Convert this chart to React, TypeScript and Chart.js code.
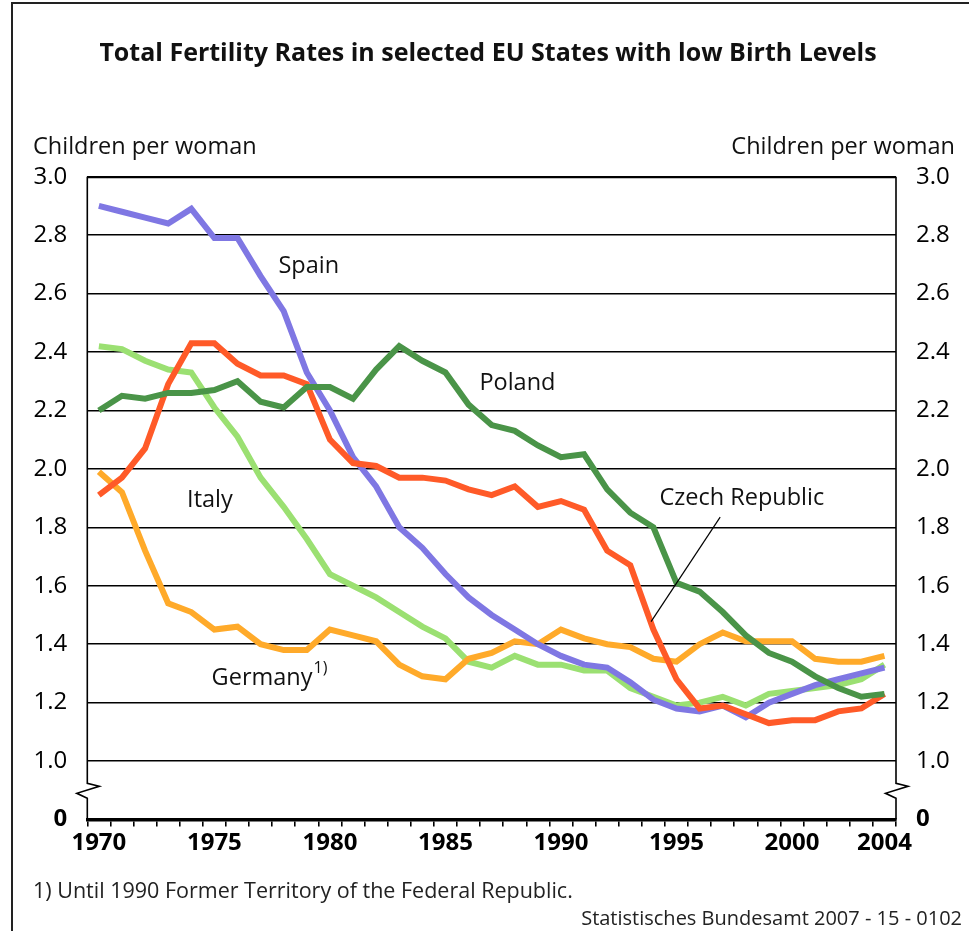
import React, { useEffect, useRef } from "react";
import { Chart, registerables } from "chart.js";

Chart.register(...registerables);

const years = [
  "1970", "1971", "1972", "1973", "1974", "1975", "1976", "1977", "1978", "1979",
  "1980", "1981", "1982", "1983", "1984", "1985", "1986", "1987", "1988", "1989",
  "1990", "1991", "1992", "1993", "1994", "1995", "1996", "1997", "1998", "1999",
  "2000", "2001", "2002", "2003", "2004",
];
const labeledYears = ["1970", "1975", "1980", "1985", "1990", "1995", "2000", "2004"];

const spain = [
  2.90, 2.88, 2.86, 2.84, 2.89, 2.79, 2.79, 2.66, 2.54, 2.33,
  2.20, 2.04, 1.94, 1.80, 1.73, 1.64, 1.56, 1.50, 1.45, 1.40,
  1.36, 1.33, 1.32, 1.27, 1.21, 1.18, 1.17, 1.19, 1.15, 1.20,
  1.23, 1.26, 1.28, 1.30, 1.32,
];
const poland = [
  2.20, 2.25, 2.24, 2.26, 2.26, 2.27, 2.30, 2.23, 2.21, 2.28,
  2.28, 2.24, 2.34, 2.42, 2.37, 2.33, 2.22, 2.15, 2.13, 2.08,
  2.04, 2.05, 1.93, 1.85, 1.80, 1.61, 1.58, 1.51, 1.43, 1.37,
  1.34, 1.29, 1.25, 1.22, 1.23,
];
const italy = [
  2.42, 2.41, 2.37, 2.34, 2.33, 2.21, 2.11, 1.97, 1.87, 1.76,
  1.64, 1.60, 1.56, 1.51, 1.46, 1.42, 1.34, 1.32, 1.36, 1.33,
  1.33, 1.31, 1.31, 1.25, 1.22, 1.19, 1.20, 1.22, 1.19, 1.23,
  1.24, 1.25, 1.26, 1.28, 1.33,
];
const czech = [
  1.91, 1.97, 2.07, 2.29, 2.43, 2.43, 2.36, 2.32, 2.32, 2.29,
  2.10, 2.02, 2.01, 1.97, 1.97, 1.96, 1.93, 1.91, 1.94, 1.87,
  1.89, 1.86, 1.72, 1.67, 1.45, 1.28, 1.18, 1.19, 1.16, 1.13,
  1.14, 1.14, 1.17, 1.18, 1.23,
];
const germany = [
  1.99, 1.92, 1.72, 1.54, 1.51, 1.45, 1.46, 1.40, 1.38, 1.38,
  1.45, 1.43, 1.41, 1.33, 1.29, 1.28, 1.35, 1.37, 1.41, 1.40,
  1.45, 1.42, 1.40, 1.39, 1.35, 1.34, 1.40, 1.44, 1.41, 1.41,
  1.41, 1.35, 1.34, 1.34, 1.36,
];

const titleText = "Total Fertility Rates in selected EU States with low Birth Levels";
const axisTitle = "Children per woman";
const footnote = "1) Until 1990 Former Territory of the Federal Republic.";
const sourceText = "Statistisches Bundesamt 2007 - 15 - 0102";

// series labels anchored in data coordinates (category index, value)
const seriesLabels = [
  { text: "Spain", i: 7.77, v: 2.669 },
  { text: "Poland", i: 16.47, v: 2.27 },
  { text: "Italy", i: 3.82, v: 1.871 },
  { text: "Germany", i: 4.88, v: 1.261, sup: "1)" },
  { text: "Czech Republic", i: 24.26, v: 1.877 },
];
const leader = { from: { i: 26.89, v: 1.835 }, to: { i: 23.9, v: 1.477 } };

const FONT = "'Open Sans', 'DejaVu Sans', sans-serif";
const W = 969;
const H = 931;

const decorPlugin = {
  id: "decor",
  afterDraw(chart: any) {
    const ctx = chart.ctx as CanvasRenderingContext2D;
    const xs = chart.scales.x;
    const ys = chart.scales.y;
    const area = chart.chartArea;
    ctx.save();
    // frame
    ctx.strokeStyle = "#222";
    ctx.lineWidth = 2;
    ctx.beginPath();
    ctx.moveTo(12, H);
    ctx.lineTo(12, 3);
    ctx.lineTo(W, 3);
    ctx.stroke();

    // title
    ctx.fillStyle = "#111";
    ctx.font = `bold 25px ${FONT}`;
    ctx.textAlign = "center";
    ctx.textBaseline = "alphabetic";
    ctx.fillText(titleText, 488, 61);

    // axis titles
    ctx.font = `23.5px ${FONT}`;
    ctx.textAlign = "left";
    ctx.fillText(axisTitle, 33, 154);
    ctx.textAlign = "right";
    ctx.fillText(axisTitle, 955, 154);

    // axis lines with break marks
    const yB = ys.getPixelForValue(0.9);
    ctx.strokeStyle = "#000";
    ctx.lineWidth = 1.6;
    const drawBreakAxis = (x: number) => {
      ctx.beginPath();
      ctx.moveTo(x, area.top);
      ctx.lineTo(x, yB - 7);
      ctx.lineTo(x + 12, yB - 4);
      ctx.lineTo(x - 10.5, yB + 3);
      ctx.lineTo(x, yB + 8);
      ctx.lineTo(x, area.bottom);
      ctx.stroke();
    };
    drawBreakAxis(area.left);
    drawBreakAxis(area.right);

    // series labels
    ctx.fillStyle = "#111";
    ctx.textAlign = "left";
    ctx.textBaseline = "alphabetic";
    for (const l of seriesLabels) {
      ctx.font = `23.5px ${FONT}`;
      const px = xs.getPixelForValue(l.i);
      const py = ys.getPixelForValue(l.v);
      ctx.fillText(l.text, px, py);
      if (l.sup) {
        const w = ctx.measureText(l.text).width;
        ctx.font = `16px ${FONT}`;
        ctx.fillText(l.sup, px + w + 1, py - 12);
      }
    }

    // leader line
    ctx.strokeStyle = "#000";
    ctx.lineWidth = 1.2;
    ctx.beginPath();
    ctx.moveTo(xs.getPixelForValue(leader.from.i), ys.getPixelForValue(leader.from.v));
    ctx.lineTo(xs.getPixelForValue(leader.to.i), ys.getPixelForValue(leader.to.v));
    ctx.stroke();

    // footnote & source
    ctx.font = `21.5px ${FONT}`;
    ctx.textAlign = "left";
    ctx.fillStyle = "#222";
    ctx.fillText(footnote, 33, 898);
    ctx.font = `20px ${FONT}`;
    ctx.textAlign = "right";
    ctx.fillText(sourceText, 962, 925);
    ctx.restore();
  },
};

export default function App() {
  const ref = useRef<HTMLCanvasElement | null>(null);
  useEffect(() => {
    if (!ref.current) return;
    const ds = (label: string, data: number[], color: string, order: number) => ({
      label,
      data,
      borderColor: color,
      backgroundColor: color,
      borderWidth: 6,
      pointRadius: 0,
      tension: 0,
      fill: false,
      borderJoinStyle: "miter" as const,
      borderCapStyle: "butt" as const,
      order,
    });
    const isZero = (v: number) => Math.abs(Number(v) - 0.8) < 1e-6;
    const yTicks = () => ({
      min: 0.8,
      max: 3.0,
      ticks: {
        stepSize: 0.2,
        padding: 20,
        color: "#000",
        font: (c: any) => ({
          family: FONT,
          size: 24,
          weight: c.tick && isZero(c.tick.value) ? "bold" : "normal",
        }),
        callback: (v: any) => (isZero(v) ? "0" : Number(v).toFixed(1)),
      },
    });
    const chart = new Chart(ref.current, {
      type: "line",
      data: {
        labels: years,
        datasets: [
          ds("Poland", poland, "#4A9448", 1),
          ds("Czech Republic", czech, "#FF5A28", 2),
          ds("Spain", spain, "#7F77E3", 3),
          ds("Germany", germany, "#FFAA2A", 4),
          ds("Italy", italy, "#9BE072", 5),
        ],
      },
      options: {
        responsive: false,
        animation: false,
        events: [],
        layout: { padding: { top: 176.7, left: 0, right: 0, bottom: 0 } },
        plugins: { legend: { display: false }, tooltip: { enabled: false }, title: { display: false } },
        scales: {
          x: {
            type: "category",
            offset: true,
            grid: {
              offset: true,
              drawOnChartArea: false,
              drawTicks: true,
              tickLength: 7,
              color: "#000",
              lineWidth: 1.6,
            },
            border: { display: true, color: "#000", width: 3.5 },
            ticks: {
              autoSkip: false,
              maxRotation: 0,
              minRotation: 0,
              padding: 2,
              color: "#000",
              font: { family: FONT, size: 24, weight: "bold" },
              callback: function (this: any, _v: any, idx: number) {
                const y = years[idx];
                return labeledYears.includes(y) ? y : "";
              },
            },
            afterFit: (s: any) => {
              s.height = 111.5;
            },
          },
          y: {
            position: "left",
            ...yTicks(),
            grid: {
              drawTicks: false,
              color: (c: any) => (c.tick && isZero(c.tick.value) ? "rgba(0,0,0,0)" : "#000"),
              lineWidth: (c: any) => (c.tick && Math.abs(c.tick.value - 3.0) < 1e-6 ? 2.2 : 1.6),
            },
            border: { display: false },
            afterFit: (s: any) => {
              s.width = 87.3;
            },
          },
          y2: {
            position: "right",
            ...yTicks(),
            grid: { drawOnChartArea: false, drawTicks: false },
            border: { display: false },
            afterFit: (s: any) => {
              s.width = 73;
            },
          },
        },
      },
      plugins: [decorPlugin],
    });
    return () => chart.destroy();
  }, []);
  return (
    <div style={{ position: "absolute", left: 0, top: 0, width: W, height: H, background: "#fff" }}>
      <canvas ref={ref} width={W} height={H} style={{ width: W, height: H, display: "block" }} />
    </div>
  );
}
